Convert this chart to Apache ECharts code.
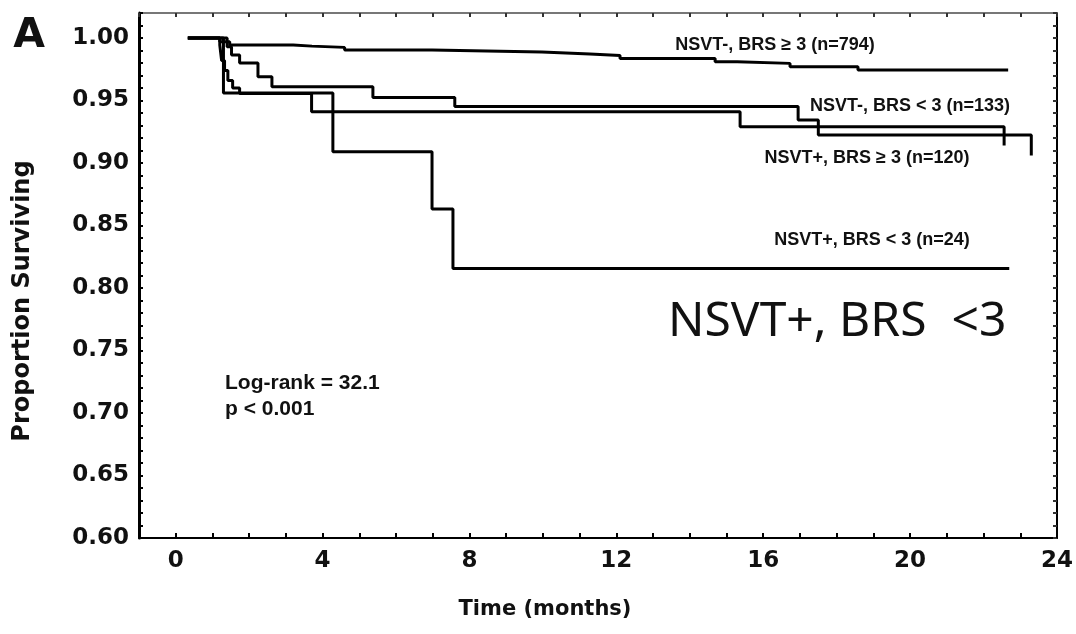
<!DOCTYPE html>
<html>
<head>
<meta charset="utf-8">
<script src="https://cdn.jsdelivr.net/npm/echarts@6/dist/echarts.min.js"></script>
<style>
html,body{margin:0;padding:0;background:#fff;}
#chart{width:1076px;height:634px;}
</style>
</head>
<body>
<div id="chart"></div>
<script>
// ---- data (months, proportion surviving after each step) ----
const t_neg_hi = [0.33, 1.2, 1.47, 3.2, 3.71, 4.6, 6.98, 9.97, 11.28, 12.1, 14.69, 15.29, 16.73, 18.58, 22.67];
const s_neg_hi = [1.0, 0.997, 0.9944, 0.9935, 0.9925, 0.9904, 0.9888, 0.9872, 0.986, 0.9837, 0.981, 0.9797, 0.977, 0.9744, 0.9744];

const t_neg_lo = [0.33, 1.4, 1.52, 1.74, 2.24, 2.62, 5.37, 7.6, 16.95, 17.5, 23.3];
const s_neg_lo = [1.0, 0.993, 0.9864, 0.98, 0.969, 0.961, 0.9525, 0.9453, 0.9344, 0.9224, 0.906];

const t_pos_hi = [0.33, 1.2, 1.25, 1.33, 1.42, 1.55, 1.74, 3.7, 15.37, 22.56];
const s_pos_hi = [1.0, 0.9944, 0.982, 0.974, 0.966, 0.96, 0.9556, 0.941, 0.929, 0.914];

const t_pos_lo = [0.33, 1.3, 4.28, 6.98, 7.55, 22.7];
const s_pos_lo = [1.0, 0.956, 0.909, 0.8632, 0.8157, 0.8157];

const seriesNames = ['NSVT-, BRS \u2265 3 (n=794)', 'NSVT-, BRS < 3 (n=133)', 'NSVT+, BRS \u2265 3 (n=120)', 'NSVT+, BRS < 3 (n=24)'];
const xTickLabels = [0, 4, 8, 12, 16, 20, 24];
const yTickLabels = ['0.60','0.65','0.70','0.75','0.80','0.85','0.90','0.95','1.00'];

function pairs(t, s){ return t.map((v,i)=>[v, s[i]]); }

const chart = echarts.init(document.getElementById('chart'), null, {renderer:'canvas'});
const tickFont = {fontFamily:'DejaVu Sans', fontWeight:'bold', fontSize:23, color:'#111'};
const lblFont = {fontFamily:'Liberation Sans', fontWeight:'bold', fontSize:18, fill:'#111'};

const mkSeries = (name, t, s) => ({
  name, type:'line', step:'end', data:pairs(t,s), showSymbol:false, symbol:'none',
  lineStyle:{color:'#000', width:3}, animation:false, z:3
});

chart.setOption({
  backgroundColor:'#fff',
  animation:false,
  grid:{left:139, right:18, top:13, bottom:96},
  xAxis:[{
    type:'value', position:'bottom', min:-1, max:24, interval:1,
    axisLine:{show:true, onZero:false, lineStyle:{color:'#000', width:2}},
    axisTick:{show:true, inside:true, length:5, lineStyle:{color:'#000', width:2}},
    splitLine:{show:false},
    axisLabel:{...tickFont, margin:12, hideOverlap:false,
      formatter:v => xTickLabels.indexOf(Math.round(v))>=0 && Math.abs(v-Math.round(v))<1e-6 ? String(Math.round(v)) : ''}
  },{
    type:'value', position:'top', min:-1, max:24, interval:1,
    axisLine:{show:true, onZero:false, lineStyle:{color:'#777', width:2}},
    axisTick:{show:true, inside:true, length:4, lineStyle:{color:'#333', width:2}},
    splitLine:{show:false}, axisLabel:{show:false}
  }],
  yAxis:[{
    type:'value', position:'left', min:0.6, max:1.02, interval:0.01,
    axisLine:{show:true, onZero:false, lineStyle:{color:'#000', width:3}},
    axisTick:{show:true, inside:true, length:4, lineStyle:{color:'#000', width:2}},
    splitLine:{show:false},
    axisLabel:{...tickFont, margin:10, hideOverlap:false,
      formatter:v => { const k = Math.round(v*100); const lab = (k/100).toFixed(2); return (k%5===0 && yTickLabels.indexOf(lab)>=0) ? lab : ''; }}
  },{
    type:'value', position:'right', min:0.6, max:1.02, interval:0.01,
    axisLine:{show:true, onZero:false, lineStyle:{color:'#000', width:2}},
    axisTick:{show:true, inside:true, length:4, lineStyle:{color:'#333', width:2}},
    splitLine:{show:false}, axisLabel:{show:false}
  }],
  series:[
    mkSeries(seriesNames[0], t_neg_hi, s_neg_hi),
    mkSeries(seriesNames[1], t_neg_lo, s_neg_lo),
    mkSeries(seriesNames[2], t_pos_hi, s_pos_hi),
    mkSeries(seriesNames[3], t_pos_lo, s_pos_lo)
  ],
  graphic:[
    {type:'text', x:29, y:36, style:{text:'A', fontFamily:'DejaVu Sans', fontWeight:'bold', fontSize:41, fill:'#111', align:'center', verticalAlign:'middle'}},
    {type:'text', x:23, y:301, rotation:Math.PI/2, style:{text:'Proportion Surviving', fontFamily:'DejaVu Sans', fontWeight:'bold', fontSize:24, fill:'#111', align:'center', verticalAlign:'middle'}},
    {type:'text', x:545, y:610, style:{text:'Time (months)', fontFamily:'DejaVu Sans', fontWeight:'bold', fontSize:21, fill:'#111', align:'center', verticalAlign:'middle'}},
    {type:'text', x:775, y:45, style:{...lblFont, text:seriesNames[0], align:'center', verticalAlign:'middle'}},
    {type:'text', x:910, y:106, style:{...lblFont, text:seriesNames[1], align:'center', verticalAlign:'middle'}},
    {type:'text', x:867, y:158, style:{...lblFont, text:seriesNames[2], align:'center', verticalAlign:'middle'}},
    {type:'text', x:872, y:240, style:{...lblFont, text:seriesNames[3], align:'center', verticalAlign:'middle'}},
    {type:'text', x:668, y:322, style:{text:'NSVT+, BRS  <3', fontFamily:'Noto Sans', fontWeight:'normal', fontSize:48, fill:'#111', align:'left', verticalAlign:'middle'}},
    {type:'text', x:225, y:383, style:{text:'Log-rank = 32.1', fontFamily:'Liberation Sans', fontWeight:'bold', fontSize:21, fill:'#111', align:'left', verticalAlign:'middle'}},
    {type:'text', x:225, y:409, style:{text:'p < 0.001', fontFamily:'Liberation Sans', fontWeight:'bold', fontSize:21, fill:'#111', align:'left', verticalAlign:'middle'}}
  ]
});
</script>
</body>
</html>
